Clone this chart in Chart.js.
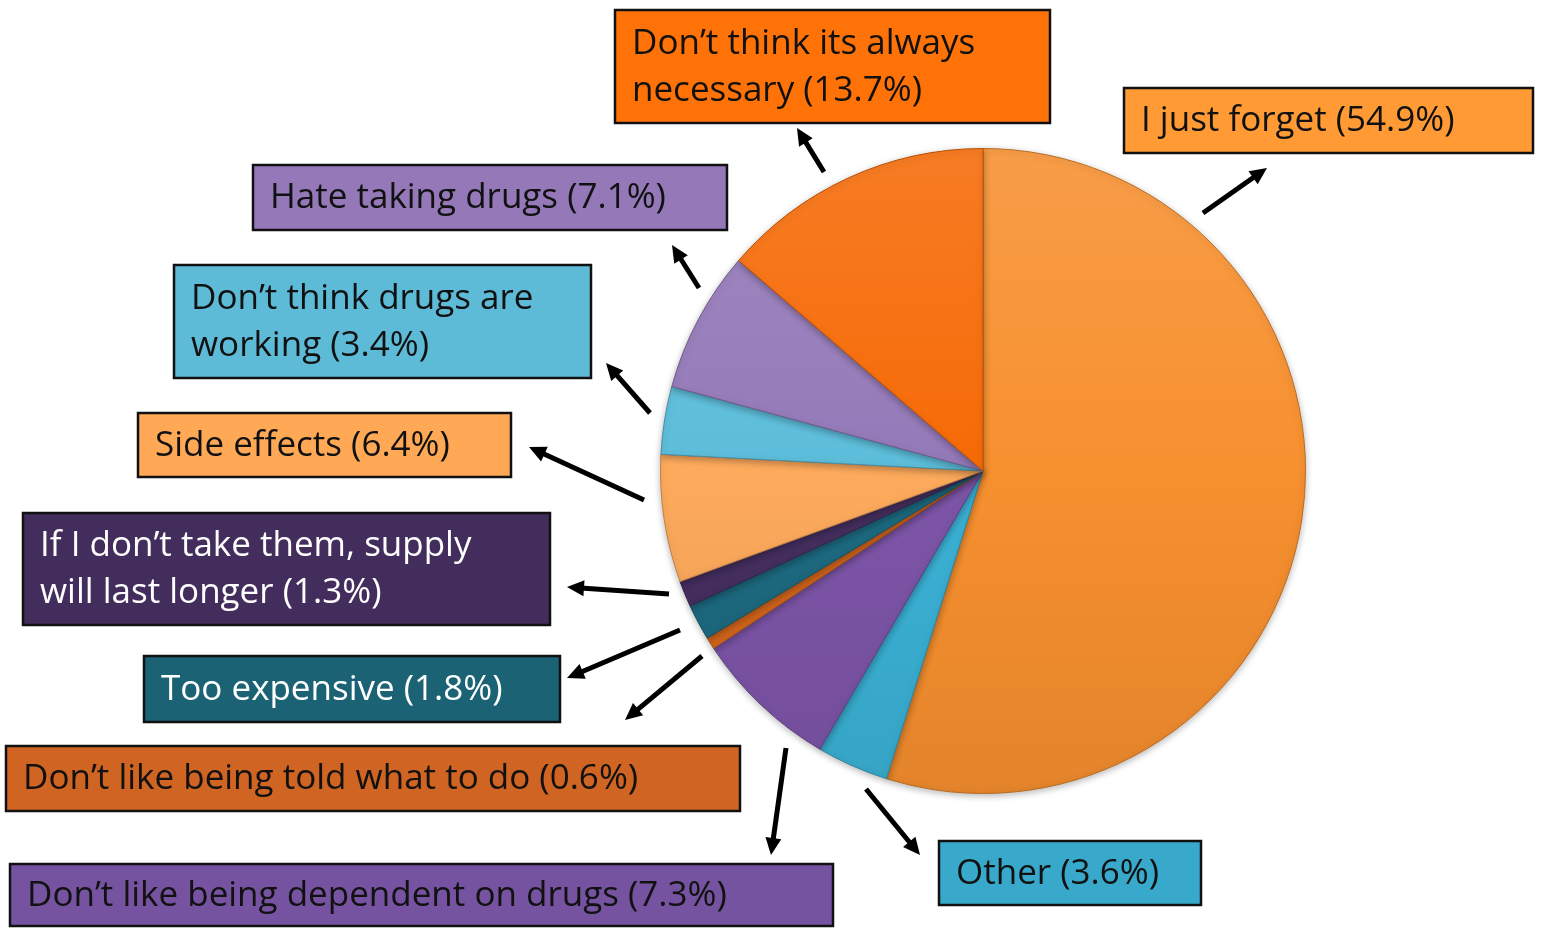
<!DOCTYPE html>
<html>
<head>
<meta charset="utf-8">
<script src="https://cdn.jsdelivr.net/npm/chart.js@4.4.1/dist/chart.umd.min.js"></script>
<style>
    html, body { margin: 0; padding: 0; background: #fff; }
    #wrap { width: 1541px; height: 929px; }
</style>
</head>
<body>
<div id="wrap"><canvas id="pie"></canvas></div>
<script>
// Reasons, clockwise from 12 o'clock
const reasons = [
    "I just forget",
    "Other",
    "Don\u2019t like being dependent on drugs",
    "Don\u2019t like being told what to do",
    "Too expensive",
    "If I don\u2019t take them, supply will last longer",
    "Side effects",
    "Don\u2019t think drugs are working",
    "Hate taking drugs",
    "Don\u2019t think its always necessary"
];
const shares = [54.9, 3.6, 7.3, 0.6, 1.8, 1.3, 6.4, 3.4, 7.1, 13.7];

const sliceColors = ["#f7902f", "#3bb2d6", "#7d55a8", "#d8681c", "#1d6a80", "#452f60", "#fdaa5c", "#5cbdda", "#9479b8", "#f66a06"];
const boxColors = ["#ff9a35", "#39a9cb", "#7653a0", "#d06422", "#1a6274", "#432d5c", "#ffa956", "#5dbbd8", "#9478b8", "#ff7208"];
const textColors = ["#111", "#111", "#111", "#111", "#fff", "#fff", "#111", "#111", "#111", "#111"];

// Label boxes (px) and arrows (offsets from pie centre: tail x,y -> head x,y)
const boxes = [
    { x: 1124, y: 88, w: 409, h: 65, wrap: 0, arrow: [220, -258, 284, -303] },
    { x: 939, y: 841, w: 262, h: 64, wrap: 0, arrow: [-117, 318, -63, 384] },
    { x: 10, y: 864, w: 823, h: 62, wrap: 0, arrow: [-197, 277, -212, 384] },
    { x: 6, y: 746, w: 734, h: 65, wrap: 0, arrow: [-281, 185, -358, 249] },
    { x: 144, y: 656, w: 416, h: 66, wrap: 0, arrow: [-303, 159, -416, 207] },
    { x: 23, y: 513, w: 527, h: 112, wrap: 6, arrow: [-314, 123, -416, 116] },
    { x: 138, y: 413, w: 373, h: 64, wrap: 0, arrow: [-339, 29, -454, -24] },
    { x: 174, y: 265, w: 417, h: 113, wrap: 4, arrow: [-333, -58, -377, -108] },
    { x: 253, y: 165, w: 474, h: 65, wrap: 0, arrow: [-284, -183, -311, -226] },
    { x: 615, y: 10, w: 435, h: 113, wrap: 4, arrow: [-159, -299, -186, -343] }
];

const shade = (hex, amt) => {
    const n = parseInt(hex.slice(1), 16);
    const f = c => Math.max(0, Math.min(255, Math.round(amt > 0 ? c + (255 - c) * amt : c * (1 + amt))));
    return `rgb(${f(n >> 16)}, ${f((n >> 8) & 255)}, ${f(n & 255)})`;
};

const drawArrow = (ctx, x1, y1, x2, y2) => {
    const a = Math.atan2(y2 - y1, x2 - x1), len = 17, half = 8;
    ctx.strokeStyle = "#000";
    ctx.fillStyle = "#000";
    ctx.lineWidth = 5;
    ctx.beginPath();
    ctx.moveTo(x1, y1);
    ctx.lineTo(x2 - Math.cos(a) * len * 0.8, y2 - Math.sin(a) * len * 0.8);
    ctx.stroke();
    ctx.beginPath();
    ctx.moveTo(x2, y2);
    ctx.lineTo(x2 - Math.cos(a) * len - Math.sin(a) * half, y2 - Math.sin(a) * len + Math.cos(a) * half);
    ctx.lineTo(x2 - Math.cos(a) * len + Math.sin(a) * half, y2 - Math.sin(a) * len - Math.cos(a) * half);
    ctx.closePath();
    ctx.fill();
};

// Handle callout boxes + arrows
const calloutPlugin = {
    id: "callouts",
    beforeDatasetsDraw(chart) {
        const ctx = chart.ctx;
        ctx.save();
        ctx.shadowColor = "rgba(0, 0, 0, 0.28)";
        ctx.shadowBlur = 7;
        ctx.shadowOffsetY = 2;
    },
    afterDatasetsDraw(chart) {
        chart.ctx.restore();
    },
    afterDraw(chart) {
        const ctx = chart.ctx, arc = chart.getDatasetMeta(0).data[0];
        const cx = arc.x, cy = arc.y;
        ctx.save();
        boxes.forEach((b, i) => {
            const text = `${reasons[i]} (${shares[i]}%)`;
            const words = text.split(" ");
            const lines = b.wrap ? [words.slice(0, b.wrap).join(" "), words.slice(b.wrap).join(" ")] : [text];

            ctx.fillStyle = boxColors[i];
            ctx.fillRect(b.x, b.y, b.w, b.h);
            ctx.lineWidth = 2.5;
            ctx.strokeStyle = "#111";
            ctx.strokeRect(b.x, b.y, b.w, b.h);

            ctx.fillStyle = textColors[i];
            ctx.font = "35px 'Open Sans', sans-serif";
            ctx.textBaseline = "middle";
            ctx.textAlign = "left";
            const mid = b.y + b.h / 2 + 1;
            lines.forEach((ln, k) => {
                const y = mid + (k - (lines.length - 1) / 2) * 47;
                ctx.fillText(ln, b.x + 17, y, b.w - 26);
            });

            const a = b.arrow;
            drawArrow(ctx, cx + a[0], cy + a[1], cx + a[2], cy + a[3]);
        });
        ctx.restore();
    }
};

new Chart(document.getElementById("pie"), {
    type: "pie",
    data: {
        labels: reasons,
        datasets: [{
            data: shares,
            backgroundColor: (c) => {
                const area = c.chart.chartArea;
                if (!area) return sliceColors[c.dataIndex];
                const col = sliceColors[c.dataIndex];
                const g = c.chart.ctx.createLinearGradient(0, area.top, 0, area.bottom);
                g.addColorStop(0, shade(col, 0.12));
                g.addColorStop(0.5, col);
                g.addColorStop(1, shade(col, -0.08));
                return g;
            },
            borderColor: (c) => shade(sliceColors[c.dataIndex], -0.25),
            borderWidth: 1
        }]
    },
    options: {
        responsive: true,
        maintainAspectRatio: false,
        animation: false,
        layout: { padding: { left: 660, right: 235, top: 148, bottom: 135 } },
        plugins: {
            legend: { display: false },
            tooltip: { enabled: false }
        }
    },
    plugins: [calloutPlugin]
});
</script>
</body>
</html>
